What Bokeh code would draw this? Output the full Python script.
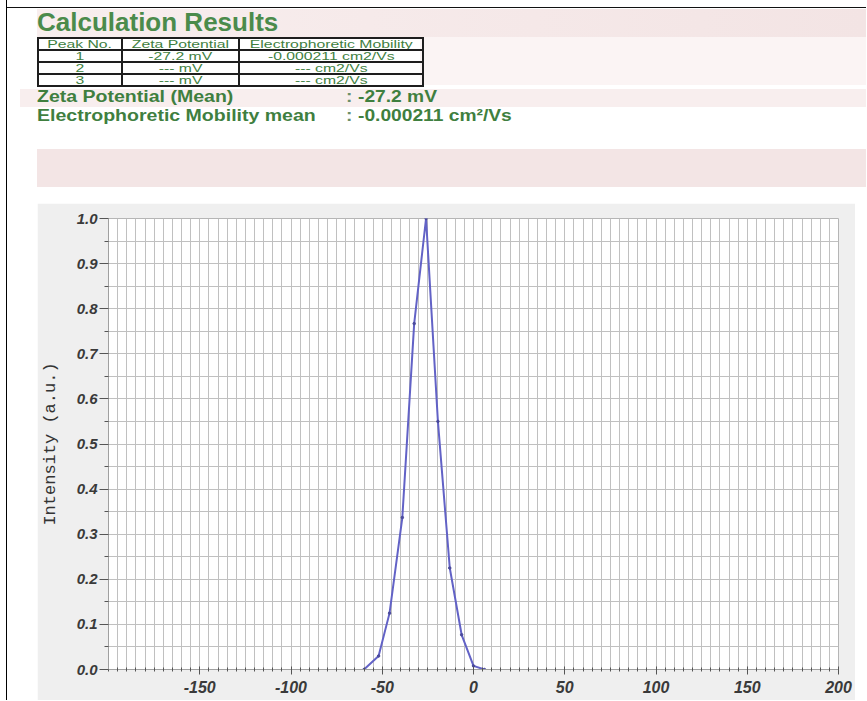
from bokeh.plotting import figure
from bokeh.models import Div, Spacer, Range1d, FixedTicker, PrintfTickFormatter, ColumnDataSource
from bokeh.layouts import row, column
from bokeh.embed import file_html
from bokeh.resources import INLINE

# ---------------- data ----------------
zeta_mv = [-60.0, -52.0, -46.0, -39.0, -32.5, -26.0, -19.5, -13.0, -6.5, 0.0, 6.0]
intensity = [0.0, 0.03, 0.125, 0.337, 0.767, 1.0, 0.55, 0.225, 0.077, 0.008, 0.0]

x_major_ticks = [-150, -100, -50, 0, 50, 100, 150, 200]
x_minor_ticks = [-200, -195, -190, -185, -180, -175, -170, -165, -160, -155, -150, -145, -140, -135,
                 -130, -125, -120, -115, -110, -105, -100, -95, -90, -85, -80, -75, -70, -65, -60,
                 -55, -50, -45, -40, -35, -30, -25, -20, -15, -10, -5, 0, 5, 10, 15, 20, 25, 30, 35,
                 40, 45, 50, 55, 60, 65, 70, 75, 80, 85, 90, 95, 100, 105, 110, 115, 120, 125, 130,
                 135, 140, 145, 150, 155, 160, 165, 170, 175, 180, 185, 190, 195, 200]
y_major_ticks = [0.0, 0.1, 0.2, 0.3, 0.4, 0.5, 0.6, 0.7, 0.8, 0.9, 1.0]
y_minor_ticks = [0.05, 0.15, 0.25, 0.35, 0.45, 0.55, 0.65, 0.75, 0.85, 0.95]

title_text = "Calculation Results"
table_headers = ["Peak No.", "Zeta Potential", "Electrophoretic Mobility"]
peak_no = ["1", "2", "3"]
peak_zeta = ["-27.2 mV", "--- mV", "--- mV"]
peak_mobility = ["-0.000211 cm2/Vs", "--- cm2/Vs", "--- cm2/Vs"]
mean_labels = ["Zeta Potential (Mean)", "Electrophoretic Mobility mean"]
mean_values = ["-27.2 mV", "-0.000211 cm\u00b2/Vs"]
y_axis_label = "Intensity (a.u.)"

# ---------------- header (HTML) ----------------
OX, OY = 7, 0
HW, HH = 859, 203
GREEN = "#3f7f3f"


def box(x, y, w, h, color):
    return (f'<div style="position:absolute;left:{x-OX}px;top:{y-OY}px;width:{w}px;'
            f'height:{h}px;background:{color};"></div>')


def txt(x, y, s, size, weight="normal", color=GREEN, sx=1.0):
    return (f'<div style="position:absolute;left:{x-OX}px;top:{y-OY}px;white-space:nowrap;'
            f'font-size:{size}px;line-height:{size}px;font-weight:{weight};color:{color};'
            f'transform:scaleX({sx});transform-origin:left top;">{s}</div>')


parts = []
parts.append(box(OX, 7, HW, 1, "#111"))
parts.append(box(37, 9, 829, 28, "linear-gradient(to right,#f8eeee,#f3e4e4)"))
parts.append(box(420, 37, 446, 48, "#fbf4f4"))
parts.append(box(20, 89, 846, 18, "#f8eeee"))
parts.append(box(37, 149, 829, 38, "#f3e5e5"))
parts.append(txt(37, 9, title_text, 26, "bold", "#4b8b4b"))

cell = ('border:2px solid #1e1e1e;padding:0;height:10px;line-height:10px;text-align:center;'
        'font-size:10.5px;color:%s;overflow:hidden;white-space:nowrap;' % GREEN)
span = '<span style="display:inline-block;transform:scaleX(1.5);">%s</span>'
rows_html = "<tr>" + "".join(f'<td style="{cell}">{span % h}</td>' for h in table_headers) + "</tr>"
for a, b, c in zip(peak_no, peak_zeta, peak_mobility):
    rows_html += (f'<tr><td style="{cell}">{span % a}</td><td style="{cell}">{span % b}</td>'
                  f'<td style="{cell}">{span % c}</td></tr>')
table_html = (f'<table style="position:absolute;left:{37-OX}px;top:{37-OY}px;border-collapse:collapse;'
              f'table-layout:fixed;width:385px;font-family:\'Liberation Sans\',Arial,sans-serif;">'
              f'<colgroup><col style="width:84px"><col style="width:117px"><col style="width:184px"></colgroup>'
              f'{rows_html}</table>')
parts.append(table_html)

parts.append(txt(37, 89, mean_labels[0], 16, "bold", GREEN, 1.22))
parts.append(txt(37, 108, mean_labels[1], 16, "bold", GREEN, 1.22))
parts.append(txt(346, 89, ":", 16, "bold", "#6a8f6a", 1.2))
parts.append(txt(346, 108, ":", 16, "bold", "#6a8f6a", 1.2))
parts.append(txt(358, 89, mean_values[0], 16, "bold", GREEN, 1.2))
parts.append(txt(358, 108, mean_values[1], 16, "bold", GREEN, 1.2))

header_html = (f'<div style="position:relative;width:{HW}px;height:{HH}px;overflow:hidden;margin:0;padding:0;'
               'font-family:\'Liberation Sans\',Arial,sans-serif;background:white;">'
               + "".join(parts) + '</div>')
header = Div(text=header_html, width=HW, height=HH, margin=0)

# ---------------- chart ----------------
p = figure(width=818, height=497, x_range=Range1d(-200, 200), y_range=Range1d(0, 1),
           output_backend="svg", toolbar_location=None,
           min_border_left=71, min_border_right=17, min_border_top=15, min_border_bottom=31,
           background_fill_color="white", border_fill_color="#efefef")
p.outline_line_color = "#b5b5b5"

xt = FixedTicker(ticks=x_major_ticks, minor_ticks=x_minor_ticks)
yt = FixedTicker(ticks=y_major_ticks, minor_ticks=y_minor_ticks)
p.xaxis.ticker = xt
p.yaxis.ticker = yt
p.xgrid.ticker = xt
p.ygrid.ticker = yt
p.xaxis.formatter = PrintfTickFormatter(format="%d")
p.yaxis.formatter = PrintfTickFormatter(format="%.1f")

for g in (p.xgrid, p.ygrid):
    g.grid_line_color = "#c0c0c0"
    g.minor_grid_line_color = "#c0c0c0"
    g.grid_line_width = 1
    g.minor_grid_line_width = 1

for ax in (p.xaxis, p.yaxis):
    ax.axis_line_color = "#a0a0a0"
    ax.major_tick_line_color = "#555555"
    ax.minor_tick_line_color = "#555555"
    ax.major_label_text_font = "Liberation Sans"
    ax.major_label_text_font_style = "bold italic"
    ax.major_label_text_color = "#3a3a3a"

p.xaxis.major_tick_in = 3
p.xaxis.major_tick_out = 5
p.xaxis.minor_tick_in = 2
p.xaxis.minor_tick_out = 2
p.xaxis.major_label_standoff = 6
p.xaxis.major_label_text_font_size = "16px"

p.yaxis.major_tick_in = 0
p.yaxis.major_tick_out = 9
p.yaxis.minor_tick_in = 0
p.yaxis.minor_tick_out = 4
p.yaxis.major_label_standoff = 2
p.yaxis.major_label_text_font_size = "15px"
p.yaxis.axis_label = y_axis_label
p.yaxis.axis_label_text_font = "Liberation Mono"
p.yaxis.axis_label_text_font_style = "normal"
p.yaxis.axis_label_text_font_size = "17px"
p.yaxis.axis_label_text_color = "#333333"
p.yaxis.axis_label_standoff = 14

src = ColumnDataSource(dict(x=zeta_mv, y=intensity))
p.line("x", "y", source=src, line_color="#6262c6", line_width=2)
p.scatter("x", "y", source=src, size=2.5, color="#4a4a9c")

left_pad = Spacer(width=6, height=700, margin=0)
border = Div(text="", width=1, height=700, margin=0, styles={"background-color": "black"})
chart_row = row(Spacer(width=30, height=497, margin=0), p)
root = row(left_pad, border, column(header, chart_row))

open("out.html", "w").write(file_html(root, INLINE))
